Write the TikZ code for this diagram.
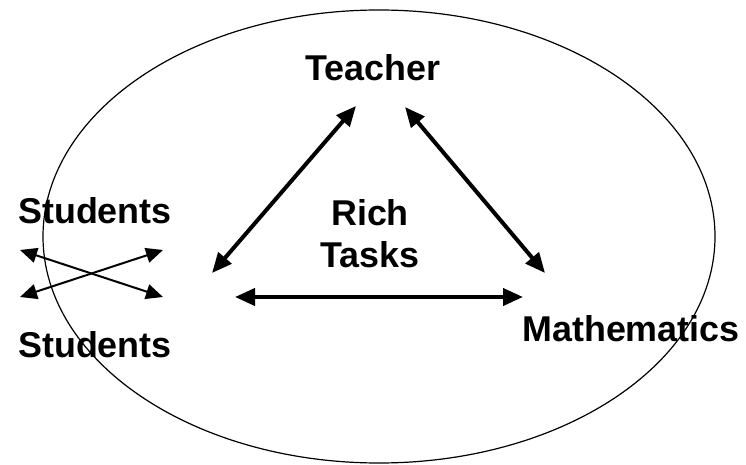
\documentclass[tikz,border=0pt]{standalone}
\usepackage{fontspec}
\setmainfont{Liberation Sans}
\usetikzlibrary{arrows.meta}
\begin{document}
\begin{tikzpicture}[x=1bp,y=-1bp,
  lbl/.style={font=\fontsize{36}{40}\selectfont\bfseries, inner sep=0pt, align=center},
  bigarrow/.style={line width=4bp, {Triangle[length=20bp,width=17bp]}-{Triangle[length=20bp,width=17bp]}},
  smallarrow/.style={line width=2bp, {Triangle[length=17bp,width=15bp]}-{Triangle[length=17bp,width=15bp]}}]
\useasboundingbox (0,0) rectangle (746,465);
\draw[line width=1.2bp] (379,236.5) ellipse [x radius=336, y radius=226.5];
\node[lbl] (teacher) at (373,68) {Teacher};
\node[lbl] (s1) at (95,211) {Students};
\node[lbl] (s2) at (95,345) {Students};
\node[lbl] (rich) at (370,213) {Rich};
\node[lbl] (tasks) at (370,255) {Tasks};
\node[lbl] (math) at (631,329) {Mathematics};
\coordinate (ts) at (212,273);
\coordinate (tt) at (356,106);
\coordinate (mt) at (405,107);
\coordinate (mm) at (545,273);
\coordinate (bl) at (235,297);
\coordinate (br) at (523,297);
\coordinate (c1) at (20,250);
\coordinate (c2) at (163,297);
\coordinate (c3) at (20,297);
\coordinate (c4) at (163,250);
\draw[bigarrow] (ts) -- (tt);
\draw[bigarrow] (mt) -- (mm);
\draw[bigarrow] (bl) -- (br);
\draw[smallarrow] (c1) -- (c2);
\draw[smallarrow] (c3) -- (c4);
\end{tikzpicture}
\end{document}
